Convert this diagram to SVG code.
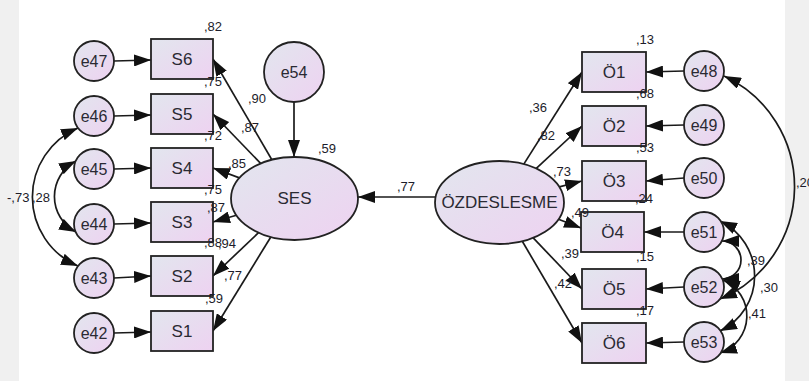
<svg xmlns="http://www.w3.org/2000/svg" width="809" height="381" viewBox="0 0 809 381">
  <defs>
    <linearGradient id="fillGrad" x1="0" y1="0" x2="1" y2="1">
      <stop offset="0" stop-color="#e2e6ee"/>
      <stop offset="1" stop-color="#eed2f1"/>
    </linearGradient>
    <marker id="arrow" viewBox="0 0 17 12" refX="17" refY="6" markerWidth="17" markerHeight="12" markerUnits="userSpaceOnUse" orient="auto-start-reverse">
      <path d="M0,0 L17,6 L0,12 z" fill="#111"/>
    </marker>
    <style>
      .shape { fill: url(#fillGrad); stroke: #222; stroke-width: 1.8; }
      .name { font-family: "Liberation Sans", Arial, sans-serif; font-size: 17px; fill: #2a2a33; text-anchor: middle; dominant-baseline: central; }
      .ename { font-family: "Liberation Sans", Arial, sans-serif; font-size: 16px; fill: #2a2a33; text-anchor: middle; dominant-baseline: central; }
      .num { font-family: "Liberation Sans", Arial, sans-serif; font-size: 13px; fill: #1c1c2a; }
      .edge { stroke: #1a1a1a; stroke-width: 1.7; fill: none; marker-end: url(#arrow); }
      .cov { stroke: #1a1a1a; stroke-width: 1.7; fill: none; marker-start: url(#arrow); marker-end: url(#arrow); }
    </style>
  </defs>

  <!-- canvas -->
  <rect x="0" y="0" width="809" height="381" fill="#ffffff"/>
  <rect x="0" y="0" width="19" height="381" fill="#f0f0f0"/>
  <rect x="785" y="0" width="24" height="381" fill="#f0f0f0"/>

  <!-- connectors -->
  <g id="connectors">
    <!-- error terms to SES indicators -->
    <line class="edge" x1="114" y1="61" x2="151" y2="60"/>
    <line class="edge" x1="114" y1="116" x2="151" y2="115"/>
    <line class="edge" x1="114" y1="169" x2="151" y2="168"/>
    <line class="edge" x1="114" y1="224" x2="151" y2="223"/>
    <line class="edge" x1="114" y1="278" x2="151" y2="276"/>
    <line class="edge" x1="114" y1="333" x2="151" y2="332"/>
    <!-- SES loadings -->
    <line class="edge" x1="272" y1="160" x2="213" y2="59"/>
    <line class="edge" x1="260.6" y1="163.4" x2="213" y2="114"/>
    <line class="edge" x1="239.4" y1="177.9" x2="213" y2="168"/>
    <line class="edge" x1="236.4" y1="215.3" x2="213" y2="222"/>
    <line class="edge" x1="258.5" y1="232.7" x2="213" y2="276"/>
    <line class="edge" x1="270.8" y1="237" x2="213" y2="331"/>
    <!-- disturbance of SES -->
    <line class="edge" x1="294" y1="102" x2="294" y2="157"/>
    <!-- structural path -->
    <line class="edge" x1="435.6" y1="197" x2="358" y2="197"/>
    <!-- ÖZDESLESME loadings -->
    <line class="edge" x1="523.8" y1="164.1" x2="582" y2="72"/>
    <line class="edge" x1="536.3" y1="168.4" x2="582" y2="126"/>
    <line class="edge" x1="559.3" y1="186.9" x2="582" y2="181"/>
    <line class="edge" x1="558.5" y1="219.3" x2="581" y2="228"/>
    <line class="edge" x1="533.2" y1="237.9" x2="582" y2="289"/>
    <line class="edge" x1="522.3" y1="241.3" x2="582" y2="343"/>
    <!-- error terms to ÖZDESLESME indicators -->
    <line class="edge" x1="684" y1="71" x2="646" y2="72"/>
    <line class="edge" x1="684" y1="125" x2="646" y2="126"/>
    <line class="edge" x1="684" y1="178" x2="646" y2="181"/>
    <line class="edge" x1="684" y1="232" x2="644" y2="232"/>
    <line class="edge" x1="684" y1="287" x2="646" y2="289"/>
    <line class="edge" x1="684" y1="342" x2="646" y2="343"/>
    <!-- covariances, left -->
    <path class="cov" d="M78,128 A75,75 0 0 0 78,266"/>
    <path class="cov" d="M76,161 A40,40 0 0 0 76,232"/>
    <!-- covariances, right -->
    <path class="cov" d="M724,76 A122,122 0 0 1 720,299"/>
    <path class="cov" d="M722,241 A19,19 0 0 1 722,279"/>
    <path class="cov" d="M720,221 A61,61 0 0 1 720,331"/>
    <path class="cov" d="M723,280 A39,39 0 0 1 720,353"/>
  </g>

  <!-- SES side error terms -->
  <g id="e47"><circle class="shape" cx="94" cy="61" r="20"/><text class="ename" x="94" y="61">e47</text></g>
  <g id="e46"><circle class="shape" cx="94" cy="116" r="20"/><text class="ename" x="94" y="116">e46</text></g>
  <g id="e45"><circle class="shape" cx="94" cy="169" r="20"/><text class="ename" x="94" y="169">e45</text></g>
  <g id="e44"><circle class="shape" cx="94" cy="224" r="20"/><text class="ename" x="94" y="224">e44</text></g>
  <g id="e43"><circle class="shape" cx="94" cy="278" r="20"/><text class="ename" x="94" y="278">e43</text></g>
  <g id="e42"><circle class="shape" cx="94" cy="333" r="20"/><text class="ename" x="94" y="333">e42</text></g>

  <!-- SES indicators -->
  <g id="S6"><rect class="shape" x="151" y="39" width="62" height="40"/><text class="name" x="182" y="59">S6</text></g>
  <g id="S5"><rect class="shape" x="151" y="94" width="62" height="40"/><text class="name" x="182" y="114">S5</text></g>
  <g id="S4"><rect class="shape" x="151" y="148" width="62" height="40"/><text class="name" x="182" y="168">S4</text></g>
  <g id="S3"><rect class="shape" x="151" y="202" width="62" height="40"/><text class="name" x="182" y="222">S3</text></g>
  <g id="S2"><rect class="shape" x="151" y="256" width="62" height="40"/><text class="name" x="182" y="276">S2</text></g>
  <g id="S1"><rect class="shape" x="151" y="311" width="62" height="40"/><text class="name" x="182" y="331">S1</text></g>

  <!-- latent variables -->
  <g id="e54"><circle class="shape" cx="294" cy="72" r="30"/><text class="ename" x="294" y="72">e54</text></g>
  <g id="SES"><ellipse class="shape" cx="294.5" cy="198.5" rx="63.5" ry="41.5"/><text class="name" x="294.5" y="198.5">SES</text></g>
  <g id="OZDESLESME"><ellipse class="shape" cx="499.5" cy="202.5" rx="64.5" ry="41.5"/><text class="name" x="499.5" y="202.5">ÖZDESLESME</text></g>

  <!-- ÖZDESLESME indicators -->
  <g id="O1"><rect class="shape" x="582" y="52" width="64" height="40"/><text class="name" x="614" y="72">Ö1</text></g>
  <g id="O2"><rect class="shape" x="582" y="106" width="64" height="40"/><text class="name" x="614" y="126">Ö2</text></g>
  <g id="O3"><rect class="shape" x="582" y="161" width="64" height="40"/><text class="name" x="614" y="181">Ö3</text></g>
  <g id="O4"><rect class="shape" x="581" y="212" width="63" height="40"/><text class="name" x="612.5" y="232">Ö4</text></g>
  <g id="O5"><rect class="shape" x="582" y="269" width="64" height="40"/><text class="name" x="614" y="289">Ö5</text></g>
  <g id="O6"><rect class="shape" x="582" y="323" width="64" height="40"/><text class="name" x="614" y="343">Ö6</text></g>

  <!-- ÖZDESLESME side error terms -->
  <g id="e48"><circle class="shape" cx="704" cy="71" r="20"/><text class="ename" x="704" y="71">e48</text></g>
  <g id="e49"><circle class="shape" cx="704" cy="125" r="20"/><text class="ename" x="704" y="125">e49</text></g>
  <g id="e50"><circle class="shape" cx="704" cy="178" r="20"/><text class="ename" x="704" y="178">e50</text></g>
  <g id="e51"><circle class="shape" cx="704" cy="232" r="20"/><text class="ename" x="704" y="232">e51</text></g>
  <g id="e52"><circle class="shape" cx="704" cy="287" r="20"/><text class="ename" x="704" y="287">e52</text></g>
  <g id="e53"><circle class="shape" cx="704" cy="342" r="20"/><text class="ename" x="704" y="342">e53</text></g>

  <!-- estimates -->
  <g id="estimates">
    <text class="num" x="204" y="31">,82</text>
    <text class="num" x="204" y="86">,75</text>
    <text class="num" x="204" y="140">,72</text>
    <text class="num" x="204" y="194">,75</text>
    <text class="num" x="207" y="212">,87</text>
    <text class="num" x="204" y="247">,88</text>
    <text class="num" x="218" y="248">,94</text>
    <text class="num" x="224" y="280">,77</text>
    <text class="num" x="205" y="303">,59</text>
    <text class="num" x="248" y="103">,90</text>
    <text class="num" x="241" y="132">,87</text>
    <text class="num" x="228" y="168">,85</text>
    <text class="num" x="318" y="153">,59</text>
    <text class="num" x="397" y="191">,77</text>
    <text class="num" x="7" y="202">-,73</text>
    <text class="num" x="32" y="202">,28</text>
    <text class="num" x="529" y="112">,36</text>
    <text class="num" x="537" y="140">,82</text>
    <text class="num" x="553" y="176">,73</text>
    <text class="num" x="571" y="217">,49</text>
    <text class="num" x="561" y="258">,39</text>
    <text class="num" x="554" y="288">,42</text>
    <text class="num" x="636" y="44">,13</text>
    <text class="num" x="636" y="98">,68</text>
    <text class="num" x="636" y="152">,53</text>
    <text class="num" x="635" y="203">,24</text>
    <text class="num" x="636" y="261">,15</text>
    <text class="num" x="636" y="315">,17</text>
    <text class="num" x="796" y="187">,20</text>
    <text class="num" x="747" y="265">,39</text>
    <text class="num" x="760" y="292">,30</text>
    <text class="num" x="748" y="318">,41</text>
  </g>
</svg>
